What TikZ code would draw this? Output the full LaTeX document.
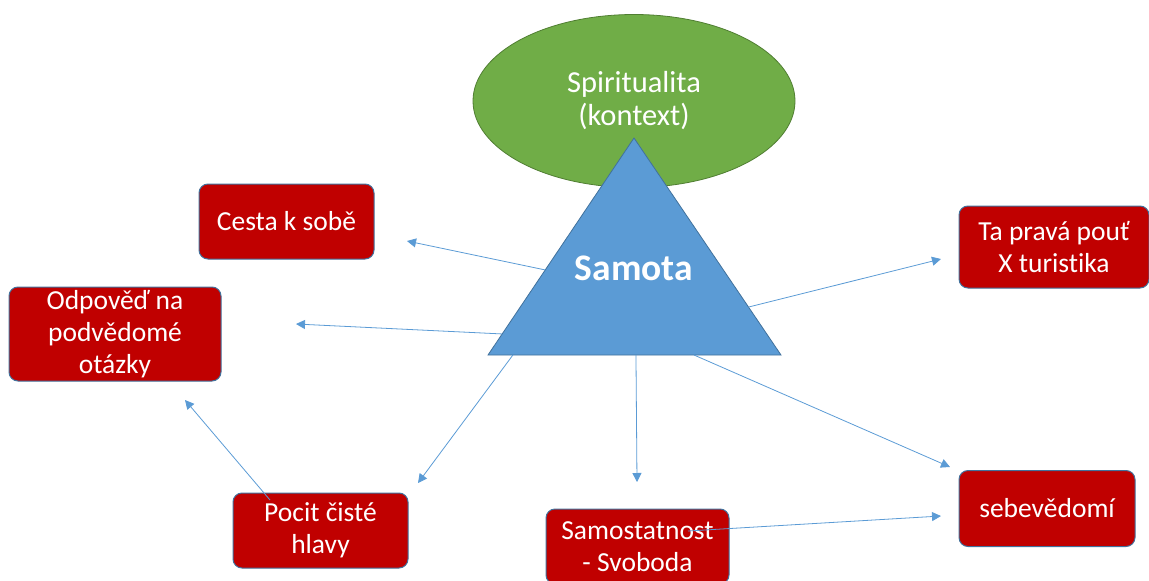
\documentclass[tikz,border=0pt]{standalone}
\usepackage{fontspec}
\setmainfont[Ligatures=NoCommon]{Carlito}
\usetikzlibrary{arrows.meta,shapes.geometric,calc}
\definecolor{cardred}{HTML}{C00000}
\definecolor{cardedge}{HTML}{41719C}
\definecolor{triblue}{HTML}{5B9BD5}
\definecolor{leafgreen}{HTML}{70AD47}
\definecolor{leafedge}{HTML}{507E32}
\tikzset{
  card/.style={draw=cardedge, fill=cardred, text=white, rounded corners=9pt,
    line width=1pt, align=center, inner sep=0pt,
    font=\fontsize{27.5}{32}\selectfont},
  arrow/.style={-{Triangle[length=9pt,width=9pt]}, draw=triblue, line width=0.8pt},
}

\begin{document}
\begin{tikzpicture}[x=1pt,y=-1pt]
  \useasboundingbox (0,0) rectangle (1149,581);
  % context
  \node[ellipse, draw=leafedge, fill=leafgreen, line width=0.8pt,
    minimum width=322pt, minimum height=173pt, inner sep=0pt,
    text=white, align=center, font=\fontsize{30.5}{33}\selectfont]
    (spirit) at (634,101) {Spiritualita\\(kontext)};
  % triangle
  \coordinate (apex) at (634,138);
  \coordinate (bl) at (488,355);
  \coordinate (br) at (781,355);
  \filldraw[fill=triblue, draw=cardedge, line width=0.8pt] (apex) -- (bl) -- (br) -- cycle;
  \node[text=white, font=\bfseries\fontsize{37.5}{40}\selectfont] (samota) at (634,268) {Samota};
  % cards
  \node[card, minimum width=175pt, minimum height=75pt] (cesta) at (286.5,221.5) {Cesta k sobě};
  \node[card, minimum width=212pt, minimum height=94pt] (odpoved) at (115,334) {Odpověď na\\podvědomé\\otázky};
  \node[card, minimum width=175pt, minimum height=75pt] (pocit) at (320.5,530.5) {Pocit čisté\\hlavy};
  \node[card, minimum width=183pt, minimum height=75pt] (samost) at (637.5,546.5) {Samostatnost\\- Svoboda};
  \node[card, minimum width=176pt, minimum height=76pt] (sebev) at (1047,508.5) {sebevědomí};
  \node[card, minimum width=190pt, minimum height=82pt] (pout) at (1054,247) {Ta pravá pouť\\X turistika};
  % arrow ends
  \coordinate (s1) at ($(apex)!0.608!(bl)$);
  \coordinate (s2) at ($(apex)!0.903!(bl)$);
  \coordinate (s3) at ($(bl)!0.085!(br)$);
  \coordinate (s4) at ($(bl)!0.505!(br)$);
  \coordinate (s5) at ($(bl)!0.703!(br)$);
  \coordinate (s6) at ($(apex)!0.779!(br)$);
  \coordinate (s7) at (270,500);
  \coordinate (s8) at (688,531);
  \coordinate (t1) at (407,241);
  \coordinate (t2) at (296,324);
  \coordinate (t3) at (418,483);
  \coordinate (t4) at (637,482);
  \coordinate (t5) at (950,467);
  \coordinate (t6) at (941,259);
  \coordinate (t7) at (185,400);
  \coordinate (t8) at (941,516);
  % arrows
  \foreach \k in {1,...,8}{
    \draw[arrow] (s\k) -- (t\k);
  }
\end{tikzpicture}
\end{document}
